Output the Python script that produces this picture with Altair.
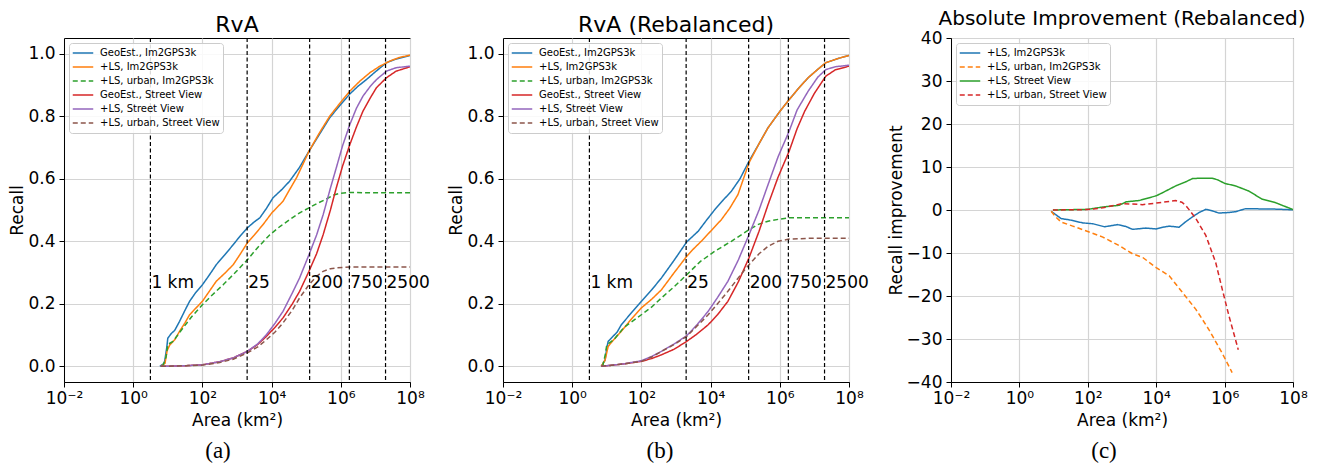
import altair as alt
import pandas as pd

FONT = "DejaVu Sans"

# ---------------- series names ----------------
names_ab = [
    "GeoEst., Im2GPS3k",
    "+LS, Im2GPS3k",
    "+LS, urban, Im2GPS3k",
    "GeoEst., Street View",
    "+LS, Street View",
    "+LS, urban, Street View",
]
colors_ab = ["#1f77b4", "#ff7f0e", "#2ca02c", "#d62728", "#9467bd", "#8c564b"]
dash_ab = [[1, 0], [1, 0], [5, 3], [1, 0], [1, 0], [5, 3]]

names_c = [
    "+LS, Im2GPS3k",
    "+LS, urban, Im2GPS3k",
    "+LS, Street View",
    "+LS, urban, Street View",
]
colors_c = ["#1f77b4", "#ff7f0e", "#2ca02c", "#d62728"]
dash_c = [[1, 0], [5, 3], [1, 0], [5, 3]]

# ---------------- panel (a): log10(area), recall ----------------
a_geo_im_lg = [0.77, 0.9, 0.97, 1.0, 1.1, 1.2, 1.34, 1.5, 1.63, 1.8, 2.0, 2.2, 2.4, 2.65, 2.89, 3.1, 3.3, 3.5,
               3.66, 3.85, 4.04, 4.3, 4.52, 4.8, 5.08, 5.4, 5.68, 6.0, 6.26, 6.5, 6.74, 7.0, 7.32, 7.6, 8.0]
a_geo_im = [0.0, 0.01, 0.06, 0.09, 0.105, 0.115, 0.144, 0.18, 0.208, 0.235, 0.261, 0.292, 0.325, 0.357, 0.389,
            0.418, 0.443, 0.462, 0.475, 0.505, 0.539, 0.566, 0.592, 0.635, 0.688, 0.745, 0.795, 0.838, 0.871,
            0.896, 0.917, 0.942, 0.971, 0.983, 0.994]

a_ls_im_lg = [0.8, 0.92, 0.98, 1.06, 1.2, 1.34, 1.5, 1.63, 1.8, 2.0, 2.2, 2.4, 2.65, 2.89, 3.1, 3.3, 3.5, 3.75,
              4.0, 4.33, 4.52, 4.72, 4.9, 5.08, 5.4, 5.68, 6.0, 6.26, 6.55, 6.84, 7.1, 7.41, 7.7, 8.0]
a_ls_im = [0.0, 0.01, 0.05, 0.069, 0.085, 0.112, 0.14, 0.165, 0.185, 0.208, 0.24, 0.272, 0.298, 0.325, 0.36,
           0.395, 0.42, 0.453, 0.49, 0.528, 0.565, 0.603, 0.645, 0.688, 0.75, 0.80, 0.845, 0.88, 0.912, 0.939,
           0.958, 0.976, 0.988, 0.995]

a_urb_im_lg = [0.85, 0.95, 1.0, 1.15, 1.44, 1.7, 2.0, 2.3, 2.6, 2.95, 3.3, 3.6, 3.95, 4.25, 4.52, 4.8, 5.08,
               5.3, 5.58, 5.8, 5.97, 6.26, 7.0, 8.0]
a_urb_im = [0.0, 0.03, 0.07, 0.08, 0.123, 0.16, 0.197, 0.23, 0.261, 0.30, 0.341, 0.38, 0.421, 0.448, 0.469,
            0.49, 0.507, 0.52, 0.535, 0.548, 0.553, 0.556, 0.555, 0.555]

a_sv_lg = [0.8, 1.5, 2.0, 2.5, 2.89, 3.3, 3.6, 3.85, 4.1, 4.33, 4.6, 4.81, 5.08, 5.3, 5.49, 5.7, 5.87, 6.05,
           6.26, 6.45, 6.64, 6.85, 7.03, 7.32, 7.6, 8.0]
a_geo_sv = [0.0, 0.002, 0.005, 0.015, 0.027, 0.048, 0.07, 0.096, 0.125, 0.155, 0.2, 0.24, 0.304, 0.36, 0.421,
            0.5, 0.571, 0.64, 0.709, 0.765, 0.816, 0.858, 0.891, 0.923, 0.944, 0.958]
a_ls_sv = [0.0, 0.002, 0.005, 0.015, 0.027, 0.048, 0.072, 0.101, 0.138, 0.176, 0.235, 0.283, 0.357, 0.42,
           0.485, 0.57, 0.635, 0.705, 0.773, 0.825, 0.864, 0.895, 0.917, 0.944, 0.955, 0.96]

a_urb_sv_lg = [0.8, 1.5, 2.0, 2.5, 2.89, 3.3, 3.6, 3.85, 4.1, 4.33, 4.6, 4.81, 5.08, 5.3, 5.49, 5.7, 5.87,
               6.26, 7.0, 8.0]
a_urb_sv = [0.0, 0.002, 0.004, 0.012, 0.023, 0.043, 0.062, 0.085, 0.11, 0.139, 0.18, 0.219, 0.261, 0.288,
            0.304, 0.312, 0.315, 0.318, 0.318, 0.318]

# ---------------- panel (b): log10(area), recall (rebalanced) ----------------
b_geo_im_lg = [0.84, 0.95, 1.0, 1.04, 1.18, 1.3, 1.42, 1.7, 2.0, 2.3, 2.58, 2.95, 3.31, 3.64, 3.9, 4.12, 4.35,
               4.6, 4.85, 5.11, 5.4, 5.66, 6.0, 6.27, 6.55, 6.82, 7.1, 7.33, 7.7, 8.0]
b_geo_im = [0.0, 0.02, 0.06, 0.08, 0.096, 0.11, 0.133, 0.17, 0.208, 0.245, 0.283, 0.34, 0.398, 0.432, 0.47,
            0.501, 0.53, 0.56, 0.6, 0.656, 0.712, 0.763, 0.815, 0.853, 0.89, 0.923, 0.95, 0.971, 0.985, 0.994]

b_ls_im_lg = [0.84, 0.95, 1.04, 1.2, 1.42, 1.7, 2.0, 2.3, 2.58, 2.95, 3.31, 3.5, 3.73, 4.0, 4.31, 4.55, 4.79,
              4.95, 5.11, 5.4, 5.66, 6.0, 6.27, 6.55, 6.82, 7.1, 7.33, 7.7, 8.0]
b_ls_im = [0.0, 0.02, 0.064, 0.085, 0.112, 0.15, 0.187, 0.215, 0.245, 0.3, 0.352, 0.375, 0.4, 0.432, 0.469,
           0.505, 0.549, 0.6, 0.651, 0.712, 0.763, 0.815, 0.853, 0.89, 0.923, 0.95, 0.971, 0.985, 0.994]

b_urb_im_lg = [0.88, 0.96, 1.0, 1.2, 1.5, 2.0, 2.3, 2.58, 2.95, 3.31, 3.7, 4.12, 4.6, 5.11, 5.4, 5.66, 6.0,
               6.27, 7.0, 8.0]
b_urb_im = [0.0, 0.04, 0.069, 0.085, 0.125, 0.165, 0.19, 0.219, 0.255, 0.293, 0.335, 0.368, 0.4, 0.437,
            0.455, 0.464, 0.471, 0.475, 0.475, 0.475]

b_geo_sv_lg = [0.84, 1.5, 2.0, 2.3, 2.58, 2.95, 3.31, 3.6, 3.93, 4.2, 4.5, 4.8, 5.11, 5.4, 5.66, 5.95, 6.27,
               6.5, 6.72, 7.0, 7.33, 7.6, 8.0]
b_geo_sv = [0.0, 0.008, 0.016, 0.025, 0.037, 0.055, 0.08, 0.103, 0.133, 0.165, 0.208, 0.27, 0.347, 0.432,
            0.517, 0.605, 0.688, 0.76, 0.816, 0.873, 0.928, 0.948, 0.96]

b_ls_sv_lg = [0.84, 1.5, 2.0, 2.3, 2.58, 2.95, 3.31, 3.6, 3.93, 4.2, 4.5, 4.8, 5.11, 5.4, 5.66, 5.95, 6.27,
              6.5, 6.82, 7.1, 7.33, 7.6, 8.0]
b_ls_sv = [0.0, 0.008, 0.018, 0.032, 0.048, 0.072, 0.098, 0.132, 0.176, 0.22, 0.272, 0.34, 0.421, 0.5, 0.581,
           0.67, 0.752, 0.82, 0.88, 0.925, 0.949, 0.958, 0.963]

b_urb_sv_lg = [0.84, 1.5, 2.0, 2.3, 2.58, 2.95, 3.31, 3.6, 3.93, 4.2, 4.5, 4.8, 5.11, 5.4, 5.66, 5.95, 6.27,
               7.0, 8.0]
b_urb_sv = [0.0, 0.008, 0.016, 0.03, 0.048, 0.07, 0.096, 0.128, 0.165, 0.2, 0.24, 0.283, 0.325, 0.36, 0.384,
            0.4, 0.407, 0.41, 0.41]

# ---------------- panel (c): log10(area), recall improvement ----------------
c_ls_im_lg = [0.93, 1.1, 1.22, 1.47, 1.85, 2.15, 2.49, 2.87, 3.1, 3.31, 3.7, 3.99, 4.2, 4.38, 4.67, 4.85, 5.06,
              5.25, 5.45, 5.6, 5.83, 6.1, 6.32, 6.61, 7.1, 7.5, 8.0]
c_ls_im = [-0.3, -1.3, -2.0, -2.3, -3.0, -3.2, -3.9, -3.4, -3.8, -4.5, -4.2, -4.4, -4.0, -3.75, -4.0, -2.8,
           -1.6, -0.6, 0.15, -0.1, -0.7, -0.6, -0.4, 0.3, 0.25, 0.2, 0.05]

c_urb_im_lg = [0.93, 1.05, 1.22, 1.56, 2.0, 2.44, 2.92, 3.31, 3.6, 4.0, 4.38, 4.77, 5.16, 5.54, 5.93, 6.22]
c_urb_im = [-0.3, -1.5, -2.8, -3.75, -5.0, -6.3, -8.3, -10.2, -11.0, -13.4, -15.3, -19.2, -23.1, -27.8,
            -33.3, -37.8]

c_ls_sv_lg = [0.98, 2.0, 2.44, 2.92, 3.12, 3.5, 4.0, 4.18, 4.57, 4.85, 5.06, 5.3, 5.64, 5.8, 6.0, 6.32, 6.71,
              7.1, 7.49, 8.0]
c_ls_sv = [0.0, 0.15, 0.7, 1.1, 1.9, 2.2, 3.3, 4.0, 5.6, 6.5, 7.3, 7.4, 7.4, 7.0, 6.2, 5.6, 4.4, 2.5, 1.7, 0.1]

c_urb_sv_lg = [0.98, 2.0, 2.44, 3.02, 3.6, 4.0, 4.3, 4.57, 4.75, 4.86, 5.0, 5.16, 5.45, 5.74, 5.93, 6.13, 6.4]
c_urb_sv = [0.0, 0.1, 0.5, 1.5, 1.25, 1.6, 1.9, 2.2, 1.8, 1.1, -0.3, -2.0, -5.9, -12.2, -18.4, -24.7, -32.5]

# ---------------- radius markers ----------------
radii_km = [1, 25, 200, 750, 2500]
radii_labels = ["1 km", "25", "200", "750", "2500"]
label_recall = 0.25

x_ticks = [1e-2, 1e0, 1e2, 1e4, 1e6, 1e8]
x_label_expr = ("datum.value < 0.1 ? '10⁻²' : datum.value < 10 ? '10⁰' : datum.value < 1000 ? '10²' : "
                "datum.value < 1e5 ? '10⁴' : datum.value < 1e7 ? '10⁶' : '10⁸'")

W_AB, H = 346, 344
W_C = 342


def series_df(names, pairs):
    rows = []
    for name, (lg, vals) in zip(names, pairs):
        for i, (l, v) in enumerate(zip(lg, vals)):
            rows.append({"series": name, "area": 10 ** l, "value": v, "i": i})
    return pd.DataFrame(rows)


def x_enc():
    return alt.X("area:Q",
                 scale=alt.Scale(type="log", domain=[1e-2, 1e8], nice=False),
                 axis=alt.Axis(values=x_ticks, labelExpr=x_label_expr, title="Area (km²)",
                               grid=True, labelFlush=False))


def legend(names):
    return alt.Legend(title=None, orient="top-left", offset=5, padding=3,
                      symbolType="stroke", symbolSize=420, symbolStrokeWidth=1.5,
                      labelFontSize=10, labelFont=FONT, labelOffset=6, rowPadding=0,
                      clipHeight=13.8,
                      strokeColor="#cccccc", fillColor="rgba(255,255,255,0.85)",
                      cornerRadius=3, labelLimit=300)


def title(text, size):
    return alt.TitleParams(text, fontSize=size, font=FONT, fontWeight="normal", offset=0)


def recall_panel(ttl, caption, cap_x, pairs):
    df = series_df(names_ab, pairs)
    lines = alt.Chart(df).mark_line(strokeWidth=1.5, clip=True).encode(
        x=x_enc(),
        y=alt.Y("value:Q", scale=alt.Scale(domain=[-0.05, 1.05], nice=False, zero=False),
                axis=alt.Axis(values=[0, 0.2, 0.4, 0.6, 0.8, 1.0], format=".1f", title="Recall", grid=True)),
        color=alt.Color("series:N", scale=alt.Scale(domain=names_ab, range=colors_ab), legend=legend(names_ab)),
        strokeDash=alt.StrokeDash("series:N", scale=alt.Scale(domain=names_ab, range=dash_ab),
                                  legend=legend(names_ab)),
        order="i:Q",
    )
    rdf = pd.DataFrame({"area": [3.141592653589793 * r * r for r in radii_km],
                        "label": radii_labels, "value": [label_recall] * len(radii_km)})
    rules = alt.Chart(rdf).mark_rule(color="black", strokeDash=[4, 2.5], strokeWidth=1.2).encode(
        x=alt.X("area:Q"))
    texts = alt.Chart(rdf).mark_text(align="left", baseline="alphabetic", dx=1, fontSize=17,
                                     font=FONT, color="black").encode(
        x=alt.X("area:Q"), y=alt.Y("value:Q"), text="label:N")
    cap = alt.Chart(pd.DataFrame({"t": [caption]})).mark_text(
        font="Liberation Serif", fontSize=23, color="black", baseline="middle").encode(
        text="t:N", x=alt.value(cap_x), y=alt.value(H + 69))
    return alt.layer(lines, rules, texts, cap).properties(
        width=W_AB, height=H, title=title(ttl, 22))


panel_a = recall_panel("RvA", "(a)", 154, [
    (a_geo_im_lg, a_geo_im), (a_ls_im_lg, a_ls_im), (a_urb_im_lg, a_urb_im),
    (a_sv_lg, a_geo_sv), (a_sv_lg, a_ls_sv), (a_urb_sv_lg, a_urb_sv)])

panel_b = recall_panel("RvA (Rebalanced)", "(b)", 157, [
    (b_geo_im_lg, b_geo_im), (b_ls_im_lg, b_ls_im), (b_urb_im_lg, b_urb_im),
    (b_geo_sv_lg, b_geo_sv), (b_ls_sv_lg, b_ls_sv), (b_urb_sv_lg, b_urb_sv)])

dfc = series_df(names_c, [(c_ls_im_lg, c_ls_im), (c_urb_im_lg, c_urb_im),
                          (c_ls_sv_lg, c_ls_sv), (c_urb_sv_lg, c_urb_sv)])
lines_c = alt.Chart(dfc).mark_line(strokeWidth=1.5, clip=True).encode(
    x=x_enc(),
    y=alt.Y("value:Q", scale=alt.Scale(domain=[-40, 40], nice=False, zero=False),
            axis=alt.Axis(values=list(range(-40, 41, 10)), title="Recall improvement", grid=True,
                          labelExpr="replace(format(datum.value, 'd'), '-', '−')")),
    color=alt.Color("series:N", scale=alt.Scale(domain=names_c, range=colors_c), legend=legend(names_c)),
    strokeDash=alt.StrokeDash("series:N", scale=alt.Scale(domain=names_c, range=dash_c), legend=legend(names_c)),
    order="i:Q",
)
cap_c = alt.Chart(pd.DataFrame({"t": ["(c)"]})).mark_text(
    font="Liberation Serif", fontSize=23, color="black", baseline="middle").encode(
    text="t:N", x=alt.value(153), y=alt.value(H + 69))
panel_c = alt.layer(lines_c, cap_c).properties(
    width=W_C, height=H, title=title("Absolute Improvement (Rebalanced)", 20))

chart = alt.hconcat(panel_a, panel_b, panel_c, spacing=16, bounds="full").resolve_scale(
    color="independent", strokeDash="independent", x="independent", y="independent"
).resolve_legend(color="independent", strokeDash="independent").properties(
    padding={"left": 0, "top": 0, "right": 10, "bottom": 0}
).configure(font=FONT).configure_view(
    stroke="black", strokeWidth=1
).configure_axis(
    labelFont=FONT, labelFontSize=17, labelColor="black", titleFont=FONT, titleFontSize=17,
    titleFontWeight="normal", titleColor="black", tickColor="black", tickSize=5, tickWidth=1,
    domainColor="black", domainWidth=1, gridColor="#d4d4d4", gridWidth=1.2, labelPadding=4,
    titlePadding=1
).configure_axisX(titlePadding=6, labelPadding=3).configure_title(color="black", anchor="middle")

chart.save("out.html", embed_options={"renderer": "svg", "actions": False})
